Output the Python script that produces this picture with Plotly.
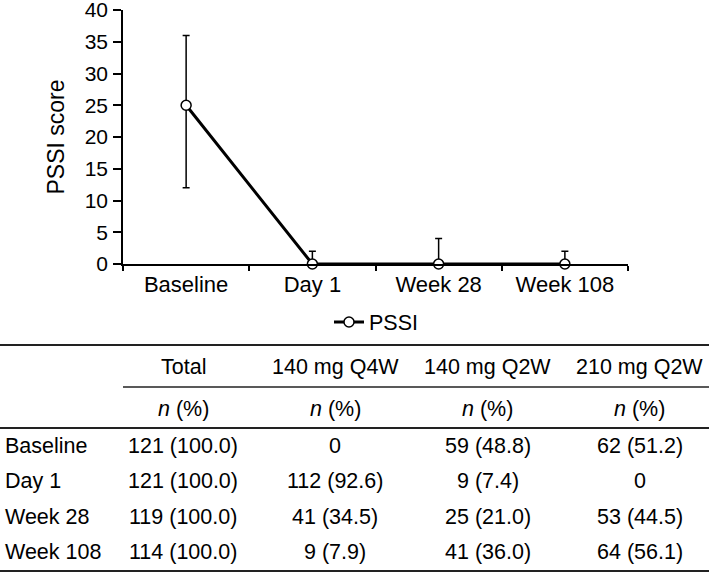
import plotly.graph_objects as go

# ---------------- data ----------------
timepoints = ["Baseline", "Day 1", "Week 28", "Week 108"]
pssi_mean = [25, 0, 0, 0]
pssi_upper = [36, 2, 4, 2]
pssi_lower = [12, 0, 0, 0]

table_columns = ["Total", "140 mg Q4W", "140 mg Q2W", "210 mg Q2W"]
table_subheader = ["<i>n</i> (%)", "<i>n</i> (%)", "<i>n</i> (%)", "<i>n</i> (%)"]
table_rows = ["Baseline", "Day 1", "Week 28", "Week 108"]
col_total = ["121 (100.0)", "121 (100.0)", "119 (100.0)", "114 (100.0)"]
col_140q4w = ["0", "112 (92.6)", "41 (34.5)", "9 (7.9)"]
col_140q2w = ["59 (48.8)", "9 (7.4)", "25 (21.0)", "41 (36.0)"]
col_210q2w = ["62 (51.2)", "0", "53 (44.5)", "64 (56.1)"]
table_values = [col_total, col_140q4w, col_140q2w, col_210q2w]

# ---------------- layout constants ----------------
W, H = 709, 573
FONT = "Liberation Sans, Arial, Helvetica, sans-serif"
FS = 22
TFS = 21.5
plot_left, plot_right, plot_top, plot_bottom = 123, 628, 10, 264

err_plus = [u - m for u, m in zip(pssi_upper, pssi_mean)]
err_minus = [m - l for m, l in zip(pssi_mean, pssi_lower)]

fig = go.Figure()
fig.add_trace(go.Scatter(
    x=timepoints, y=pssi_mean, name="PSSI",
    mode="lines+markers",
    line=dict(color="black", width=3),
    marker=dict(symbol="circle", size=10, color="white",
                line=dict(color="black", width=1.5)),
    error_y=dict(type="data", symmetric=False, array=err_plus,
                 arrayminus=err_minus, color="black", thickness=1.5, width=3.5),
    cliponaxis=False,
))

# ---------------- table ----------------
col_x0, col_pitch = 183, 152.3
row_y0, row_pitch = 446, 35.3
header_y, sub_y = 367, 409
label_x = 3

annotations = []
for j, name in enumerate(table_columns):
    cx = col_x0 + j * col_pitch
    annotations.append(dict(x=cx, y=header_y, text=name, xref="x2", yref="y2",
                            showarrow=False, xanchor="center", yanchor="middle"))
    annotations.append(dict(x=cx, y=sub_y, text=table_subheader[j], xref="x2", yref="y2",
                            showarrow=False, xanchor="center", yanchor="middle"))
    for i, val in enumerate(table_values[j]):
        annotations.append(dict(x=cx, y=row_y0 + i * row_pitch, text=val,
                                xref="x2", yref="y2", showarrow=False,
                                xanchor="center", yanchor="middle"))
for i, lab in enumerate(table_rows):
    annotations.append(dict(x=label_x, y=row_y0 + i * row_pitch, text=lab,
                            xref="x2", yref="y2", showarrow=False,
                            xanchor="left", yanchor="middle"))
for a in annotations:
    a["font"] = dict(size=TFS)

rule_color = "#222222"
shapes = [
    dict(type="line", xref="x2", yref="y2", x0=0, x1=W, y0=345, y1=345,
         line=dict(color=rule_color, width=2)),
    dict(type="line", xref="x2", yref="y2", x0=plot_left, x1=W, y0=387, y1=387,
         line=dict(color=rule_color, width=1.3)),
    dict(type="line", xref="x2", yref="y2", x0=0, x1=W, y0=428, y1=428,
         line=dict(color=rule_color, width=2)),
    dict(type="line", xref="x2", yref="y2", x0=0, x1=W, y0=571, y1=571,
         line=dict(color=rule_color, width=2)),
]

fig.update_layout(
    template="none",
    width=W, height=H,
    margin=dict(l=0, r=0, t=0, b=0, pad=0, autoexpand=False),
    paper_bgcolor="white", plot_bgcolor="rgba(0,0,0,0)",
    font=dict(family=FONT, size=FS, color="black"),
    showlegend=True,
    legend=dict(orientation="h", x=376 / W, xanchor="center",
                y=(H - 322) / H, yanchor="middle",
                font=dict(size=21.5), bgcolor="rgba(0,0,0,0)"),
    xaxis=dict(domain=[plot_left / W, plot_right / W], anchor="y",
               type="category", range=[-0.5, 3.5], automargin=False,
               showline=True, linecolor="black", linewidth=1.5,
               ticks="outside", ticklen=5, tickwidth=1.5, tickcolor="black",
               tickson="boundaries", showgrid=False, zeroline=False,
               tickfont=dict(size=FS), fixedrange=True),
    yaxis=dict(domain=[(H - plot_bottom) / H, (H - plot_top) / H], anchor="x",
               range=[0, 40], tickvals=[0, 5, 10, 15, 20, 25, 30, 35, 40],
               automargin=False,
               showline=True, linecolor="black", linewidth=1.5,
               ticks="outside", ticklen=8, tickwidth=1.5, tickcolor="black",
               showgrid=False, zeroline=False, tickfont=dict(size=21),
               ticklabelstandoff=1, ticklabeloverflow="allow",
               title=dict(text="PSSI score", font=dict(size=23), standoff=14),
               fixedrange=True),
    xaxis2=dict(domain=[0, 1], anchor="y2", range=[0, W], visible=False,
                automargin=False, fixedrange=True),
    yaxis2=dict(domain=[0, 1], anchor="x2", range=[H, 0], visible=False,
                automargin=False, fixedrange=True),
    annotations=annotations,
    shapes=shapes,
)

fig.write_html("out.html", config={"displayModeBar": False},
               post_script="document.body.style.margin='0';"
                           "document.documentElement.style.margin='0';"
                           "document.body.style.overflow='hidden';")
